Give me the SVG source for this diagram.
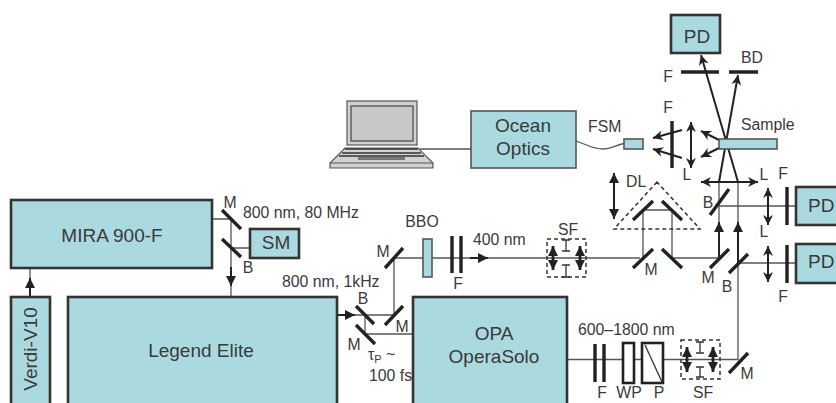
<svg xmlns="http://www.w3.org/2000/svg" width="836" height="403" viewBox="0 0 836 403">
<defs>
<style>
text{font-family:"Liberation Sans",Arial,sans-serif;font-size:15.8px;fill:#3a3a3a}
.big{font-size:19px}
.m{text-anchor:middle}
.box{fill:#abd9e0;stroke:#333;stroke-width:2.6}
.thin{fill:#abd9e0;stroke:#555;stroke-width:1.6}
.beam{fill:none;stroke:#555;stroke-width:1.3}
.bar{fill:none;stroke:#222;stroke-width:3.4}
.arr{fill:none;stroke:#222;stroke-width:2}
.dash{fill:none;stroke:#333;stroke-width:1.5;stroke-dasharray:4 3}
.tool{fill:none;stroke:#333;stroke-width:1.3}
.fat{stroke-width:2.8}
</style>
<marker id="a" markerUnits="userSpaceOnUse" markerWidth="14" markerHeight="14" viewBox="-12 -6 14 12" refX="0" refY="0" orient="auto-start-reverse"><path d="M0,0 L-10,-5 L-7,0 L-10,5z" fill="#222"/></marker>
<marker id="t" markerUnits="userSpaceOnUse" markerWidth="14" markerHeight="14" viewBox="-12 -6 14 12" refX="0" refY="0" orient="auto-start-reverse"><path d="M0,0 L-10,-5 L-10,5z" fill="#222"/></marker>
</defs>
<rect width="836" height="403" fill="#fff"/>
<g id="connectors">
<path class="beam" d="M212 219H231V297M231 248H250M30 268V297"/>
<path class="beam" d="M337 315H394V258H640M365 315V334H413M567 359.500H738V182M719 182V258M719 206H796M738 263H796M643 258V210H672V258M672 258H719M420 149H471"/>
<path class="beam" d="M576 141C586 144 592 149 603 149C610 149 616 145 624 143.500"/>
<path class="arr" d="M231 267V286" marker-end="url(#t)"/>
<path class="arr" d="M30 297V278" marker-end="url(#t)"/>
<path class="arr" d="M337 315H355" marker-end="url(#t)"/>
<path class="arr" d="M470 258H488" marker-end="url(#t)"/>
<path class="arr" d="M719 258V222" marker-end="url(#t)"/>
<path class="arr" d="M738 263V222" marker-end="url(#t)"/>
<path class="arr" d="M738 182L701 55" marker-end="url(#a)"/>
<path class="arr" d="M719 182L738 75" marker-end="url(#a)"/>
<path class="arr" d="M682 130L653 138" marker-end="url(#a)"/>
<path class="arr" d="M682 158L653 149" marker-end="url(#a)"/>
<path class="arr" d="M719 140L701 131" marker-end="url(#a)"/>
<path class="arr" d="M719 148L701 157" marker-end="url(#a)"/>
</g>
<g id="verdi"><rect class="box" x="11" y="297" width="39" height="110"/><text class="big m" transform="translate(36.500 349) rotate(-90)">Verdi-V10</text></g>
<g id="mira"><rect class="box" x="11" y="200" width="201" height="68"/><text class="big m" x="112" y="242">MIRA 900-F</text></g>
<g id="sm"><rect class="box" x="250" y="229" width="49" height="29"/><text class="big m" x="276" y="249">SM</text></g>
<g id="legend"><rect class="box" x="68" y="297" width="269" height="110"/><text class="big m" x="201" y="357">Legend Elite</text></g>
<g id="opa"><rect class="box" x="413" y="297" width="154" height="110"/><text class="big m" x="494" y="340">OPA</text><text class="big m" x="494" y="363">OperaSolo</text></g>
<g id="ocean"><rect class="thin" x="471" y="111" width="105" height="57"/><text class="big m" x="523" y="132">Ocean</text><text class="big m" x="523" y="155">Optics</text></g>
<g id="pd-top"><rect class="box" x="671" y="15" width="49" height="38"/><text class="big m" x="697" y="43">PD</text></g>
<g id="pd-1"><rect class="box" x="796" y="187" width="45" height="38"/><text class="big" x="808" y="212">PD</text></g>
<g id="pd-2"><rect class="box" x="796" y="244" width="45" height="39"/><text class="big" x="808" y="268">PD</text></g>
<g id="laptop">
<rect x="347" y="101" width="70" height="44" fill="#d2d2d2" stroke="#555" stroke-width="1.2"/>
<rect x="351" y="106" width="62" height="35" fill="#c8c8c8" stroke="#444" stroke-width="1.2"/>
<path d="M345 148H418L433 163V168H330V163Z" fill="#d2d2d2" stroke="#555" stroke-width="1.2"/>
<path d="M345 149H418M342 153H421M339 156H424" stroke="#333" stroke-width="1.6" fill="none"/>
<path d="M330 163H433" stroke="#555" stroke-width="1"/>
<rect x="358" y="157" width="47" height="3" fill="#777"/>
</g>
<g id="optics">
<path class="bar" d="M222 210L241 229M222 239L241 257M385 268L403 248M385 325L403 306M356 306L374 324M356 325L375 344"/>
<path class="bar" d="M633 220L653 201M662 201L682 220M633 268L653 249M662 249L682 268M710 268L729 249M710 215L729 189M729 273L748 254M729 373L748 353"/>
<path class="bar" d="M681 72H719M729 72H758M672 121V168M787 187V225M787 245V283M452 236V273M461 236V273M595 344V382M604 344V382"/>
<rect class="thin" x="624" y="139" width="19" height="10"/>
<rect class="thin" x="719" y="139" width="58" height="10"/>
<rect class="thin" x="423" y="239" width="9" height="38"/>
<path class="arr" d="M691 122V168" marker-start="url(#a)" marker-end="url(#a)"/>
<path class="arr" d="M701 182H758" marker-start="url(#a)" marker-end="url(#a)"/>
<path class="arr" d="M768 188V225" marker-start="url(#a)" marker-end="url(#a)"/>
<path class="arr" d="M768 246V282" marker-start="url(#a)" marker-end="url(#a)"/>
<path class="arr" d="M614 173V219" marker-start="url(#t)" marker-end="url(#t)"/>
<path class="dash" d="M657 182L614 229H700Z"/>
<rect x="623" y="343" width="11" height="40" fill="#fff" stroke="#222" stroke-width="2.6"/>
<rect x="642" y="343" width="21" height="40" fill="#fff" stroke="#222" stroke-width="2.6"/>
<path class="tool" d="M645 345L662 382"/>
</g>
<g id="sf-1"><rect class="dash" x="547" y="239" width="39" height="38"/><path class="tool" d="M562 240H570M566 240V251M562 251H570M562 265H570M566 265V277M562 277H570"/><path class="arr fat" d="M553 246V270" marker-start="url(#t)" marker-end="url(#t)"/><path class="arr fat" d="M580 246V270" marker-start="url(#t)" marker-end="url(#t)"/></g>
<g id="sf-2"><rect class="dash" x="681" y="340" width="39" height="39"/><path class="tool" d="M696 342H704M700 342V353M696 353H704M696 367H704M700 367V377M696 377H704"/><path class="arr fat" d="M687 347V372" marker-start="url(#t)" marker-end="url(#t)"/><path class="arr fat" d="M713 347V372" marker-start="url(#t)" marker-end="url(#t)"/></g>
<g id="labels">
<text x="243" y="218">800 nm, 80 MHz</text>
<text x="282" y="287">800 nm, 1kHz</text>
<text class="m" x="230" y="208">M</text>
<text class="m" x="248" y="273">B</text>
<text class="m" x="383" y="257">M</text>
<text class="m" x="363" y="304">B</text>
<text class="m" x="402" y="332">M</text>
<text class="m" x="354" y="350">M</text>
<text x="368" y="360">τ<tspan font-size="11" dy="3">P</tspan><tspan dy="-3"> ~</tspan></text>
<text x="369" y="381">100 fs</text>
<text class="m" x="422" y="227">BBO</text>
<text class="m" x="458" y="289">F</text>
<text x="473" y="245">400 nm</text>
<text class="m" x="568" y="235">SF</text>
<text x="588" y="132">FSM</text>
<text x="741" y="130">Sample</text>
<text x="741" y="63">BD</text>
<text class="m" x="668" y="82">F</text>
<text class="m" x="668" y="113">F</text>
<text class="m" x="687" y="180">L</text>
<text class="m" x="764" y="180">L</text>
<text class="m" x="783" y="179">F</text>
<text x="626" y="187">DL</text>
<text class="m" x="708" y="208">B</text>
<text class="m" x="651" y="275">M</text>
<text class="m" x="708" y="283">M</text>
<text class="m" x="727" y="292">B</text>
<text class="m" x="764" y="237">L</text>
<text class="m" x="783" y="302">F</text>
<text x="578" y="335">600–1800 nm</text>
<text class="m" x="602" y="398">F</text>
<text class="m" x="629" y="398">WP</text>
<text class="m" x="659" y="398">P</text>
<text class="m" x="703" y="398">SF</text>
<text class="m" x="747" y="379">M</text>
</g>
</svg>
